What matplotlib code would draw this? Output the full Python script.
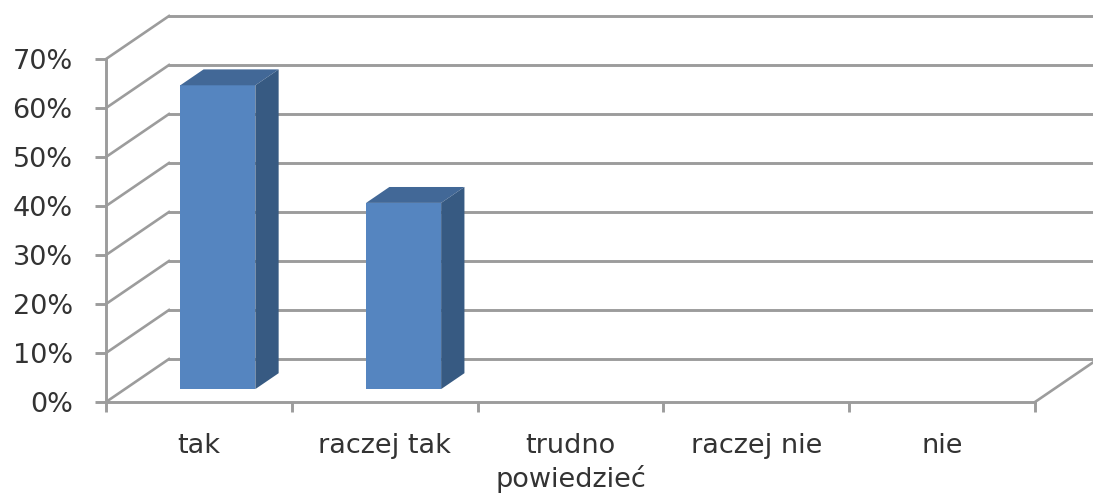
import matplotlib
matplotlib.use('Agg')
import matplotlib.pyplot as plt
import numpy as np

categories = ['tak', 'raczej tak', 'trudno\npowiedzieć', 'raczej nie', 'nie']
values = [62, 38, 0, 0, 0]
y_ticks = [0, 10, 20, 30, 40, 50, 60, 70]

grey = '#9c9c9c'
front_col = '#5585c0'
top_col = '#426897'
side_col = '#375a82'

# 3d depth of the chart floor, in data units
depth_x = 63 / 185.8
depth_y = 43 / 4.9
bar_w = 0.404
near = 0.30   # where the bar front sits in the depth
far = 0.67    # where the bar back sits

fig = plt.figure(figsize=(10.93, 4.93), dpi=100)
ax = fig.add_axes([106 / 1093, 91 / 493, 929 / 1093, 343 / 493])
ax.set_xlim(0, 5)
ax.set_ylim(0, 70)

# back wall and side wall grid
for t in y_ticks:
    ax.plot([0, depth_x], [t, t + depth_y], color=grey, lw=1.9, clip_on=False, zorder=1)
    ax.plot([depth_x, 5 + depth_x], [t + depth_y, t + depth_y], color=grey, lw=2.1,
            clip_on=False, zorder=1)
ax.plot([5, 5 + depth_x], [0, depth_y], color=grey, lw=1.9, clip_on=False, zorder=1)

# bars, front face then top and side
x = np.arange(len(categories)) + 0.5
for xi, v in zip(x, values):
    if v == 0:
        continue
    left = xi - bar_w / 2 + near * depth_x
    right = left + bar_w
    base = near * depth_y
    d_x = (far - near) * depth_x
    d_y = (far - near) * depth_y
    ax.bar(left, v, width=bar_w, bottom=base, align='edge', color=front_col,
           clip_on=False, zorder=3)
    ax.fill([left, right, right + d_x, left + d_x],
            [base + v, base + v, base + v + d_y, base + v + d_y],
            color=top_col, lw=0, clip_on=False, zorder=3)
    ax.fill([right, right + d_x, right + d_x, right],
            [base, base + d_y, base + v + d_y, base + v],
            color=side_col, lw=0, clip_on=False, zorder=3)

for s in ['top', 'right']:
    ax.spines[s].set_visible(False)
for s in ['left', 'bottom']:
    ax.spines[s].set_color(grey)
    ax.spines[s].set_linewidth(2.1)

ax.set_yticks(y_ticks)
ax.set_yticklabels([str(t) + '%' for t in y_ticks])
ax.set_xticks(np.arange(6))
ax.set_xticklabels([])
ax.set_xticks(x, minor=True)
ax.set_xticklabels(categories, minor=True, linespacing=1.28)
ax.tick_params(axis='y', length=8, width=2.1, color=grey, pad=16,
               labelsize=19.5, labelcolor='#333333')
ax.tick_params(axis='x', which='major', length=7.5, width=2.1, color=grey)
ax.tick_params(axis='x', which='minor', length=0, pad=22.5, labelsize=19.5,
               labelcolor='#333333')

fig.savefig('out.png', dpi=100)
